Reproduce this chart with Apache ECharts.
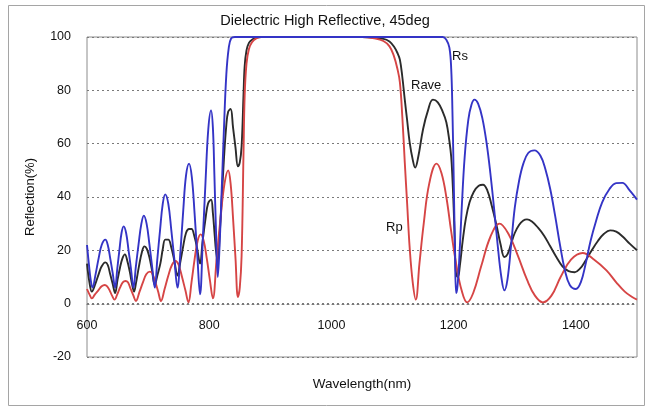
<!DOCTYPE html>
<html>
<head>
<meta charset="utf-8">
<script src="https://cdn.jsdelivr.net/npm/echarts@6/dist/echarts.min.js"></script>
<style>
  html, body { margin: 0; padding: 0; background: #fff; }
  #chart { width: 650px; height: 410px; }
</style>
</head>
<body>
<div id="chart"></div>
<script>
// Reflectance spectra of a dielectric high-reflector at 45 degrees incidence.
// Wavelengths in nm, reflectance in %.

const rsNm = [600, 603, 606, 609, 614, 619, 624, 630, 634, 638, 642, 646, 649.5, 653, 656.5, 660, 664, 668, 672, 676,
  680, 684.5, 689, 693, 697.5, 702, 706.5, 711, 715, 719.5, 724, 728, 733, 738, 743, 748, 753, 757.5, 762, 767,
  771.5, 776, 780.5, 785, 789.5, 794, 798.5, 803, 806, 808.5, 811, 814, 817, 820, 824, 828, 832, 836, 842, 900,
  1000, 1100, 1182, 1188, 1193, 1196, 1198, 1200, 1202, 1204, 1206, 1209, 1213, 1218, 1224, 1229, 1234, 1240, 1247, 1254,
  1260, 1266, 1272, 1278, 1283, 1288, 1294, 1300, 1307, 1314, 1322, 1332, 1342, 1350, 1358, 1366, 1374, 1382, 1390, 1400,
  1408, 1416, 1424, 1433, 1443, 1455, 1466, 1476, 1488, 1500];
const rsVal = [22, 15, 9, 6, 11, 17, 22, 24, 22, 17, 11.5, 6, 13, 20, 26.5, 29, 26.5, 20, 13, 6,
  14, 22.5, 30, 33, 30, 22.5, 14, 6, 16.5, 27.5, 37.5, 41, 37.5, 27.5, 16.5, 6, 20, 35, 48, 52.5,
  47.5, 34, 18, 3.5, 24, 46, 65.5, 72.5, 66, 48, 28, 10, 22, 40, 65, 86, 96, 99.5, 100, 100,
  100, 100, 100, 99, 96, 88, 72, 48, 22, 4, 6, 16, 35, 55, 69, 74.5, 76.5, 75, 69.5, 60,
  49, 36, 22, 10, 5, 9, 22, 36, 46, 52.5, 56.5, 57.5, 55.5, 50.5, 43, 33, 22, 12.5, 7, 5.5,
  8, 15, 23.5, 31, 38, 43, 45.2, 45.3, 42.5, 39];

const rpNm = [600, 604, 608, 613, 618.5, 624, 629, 633, 637, 641, 645, 649.5, 654, 658.5, 663, 667, 671.5, 676, 680, 686,
  691.5, 697, 703, 707.5, 712, 716.5, 721, 727, 733, 739, 745, 750, 755.5, 761, 766, 771, 776, 781, 786, 791,
  796, 801, 806, 812, 818.5, 825, 831, 835, 839, 843, 847, 850, 853, 856, 858, 861, 865, 870, 877, 885,
  1000, 1050, 1070, 1085, 1095, 1102, 1108, 1112, 1116, 1120, 1124, 1128, 1133, 1138, 1144, 1151, 1160, 1172, 1180, 1188,
  1196, 1204, 1213, 1222, 1232, 1245, 1260, 1275, 1290, 1305, 1320, 1333, 1346, 1360, 1375, 1392, 1411, 1430, 1450, 1466,
  1480, 1492, 1500];
const rpVal = [5.5, 3.5, 2, 3.5, 5, 6.5, 7, 6.5, 5, 3, 1.5, 3.5, 6, 8, 8.5, 8, 5.5, 3, 1, 4.5,
  8, 11, 12, 11, 8, 4.5, 1, 5.5, 10.5, 14.5, 16, 14.5, 10, 5, 0.5, 8, 16.5, 23.5, 26, 23.5,
  17, 9, 2, 16.5, 32, 45, 50, 45, 32, 17, 2.5, 6, 18, 55, 78, 90, 95.5, 98, 99.5, 100,
  100, 100, 99.5, 98.5, 96.5, 93, 88, 83, 70, 53, 37, 21, 8, 1.5, 15, 30, 45, 52.5, 49, 40,
  27, 15, 5, 0.5, 4, 14, 25, 30, 26, 18, 9, 3, 0.5, 3, 10, 16.5, 19, 16.5, 12.5, 8,
  4.5, 2.5, 1.5];

const raveNm = [600, 604, 608, 613, 619, 624, 630, 634, 638, 642, 646, 650, 654, 658, 662, 666, 670, 674, 677, 680,
  685, 690, 694, 698, 702, 706, 711, 715, 720, 724, 728, 733, 738, 743, 748, 753, 757, 762, 767, 771,
  776, 780, 785, 789, 794, 798, 803, 806, 809, 811, 814, 817, 820, 824, 828, 831, 835, 839, 843, 847,
  850, 853, 856, 858, 861, 865, 870, 877, 885, 1000, 1050, 1085, 1095, 1102, 1108, 1112, 1116, 1120, 1124, 1128,
  1133, 1137, 1142, 1150, 1158, 1166, 1174, 1182, 1188, 1193, 1196, 1198, 1200, 1202, 1204, 1207, 1210, 1215, 1220, 1226,
  1233, 1241, 1248, 1255, 1262, 1270, 1277, 1283, 1288, 1294, 1300, 1307, 1314, 1320, 1328, 1338, 1348, 1358, 1368, 1378,
  1388, 1398, 1407, 1416, 1426, 1436, 1446, 1456, 1466, 1476, 1488, 1500];
const raveVal = [15, 8, 4.5, 7, 11, 14, 15.5, 14.5, 11, 7.5, 4, 9, 13.5, 17, 18.5, 16, 12, 7, 4.5, 7.5,
  14, 19.5, 21.5, 20.5, 17.5, 13, 7, 10.5, 15, 20.5, 24, 24, 21, 16, 10.5, 16, 21, 26.5, 28, 28,
  25, 21, 15, 23, 32, 37.5, 39, 34, 25.5, 20, 15.5, 25.5, 37.5, 54, 67, 72, 73, 66, 58.5, 51.5,
  53, 59, 77.5, 89, 95, 97.8, 99, 99.8, 100, 100, 100, 99.3, 98.3, 96.5, 94, 91.5, 85, 76.5, 68.5, 60.5,
  54, 51, 55, 65.5, 72.5, 76.5, 75.5, 72, 68, 61, 55, 47, 36, 22, 11, 10, 14, 24, 32, 38,
  42, 44.2, 44.6, 42.5, 37, 29.5, 22, 17.5, 18.5, 22.5, 26.5, 29.5, 31.2, 31.6, 30.8, 28.5, 25.5, 21.5, 17.5, 14,
  12.2, 11.8, 13.2, 16.2, 20, 23.5, 26.2, 27.5, 27, 25.3, 22.5, 20];

const xTicks = { min: 600, max: 1500, step: 200 };
const yTicks = { min: -20, max: 100, step: 20 };

const titleText = 'Dielectric High Reflective, 45deg';
const xName = 'Wavelength(nm)';
const yName = 'Reflection(%)';
const seriesNames = ['Rave', 'Rp', 'Rs'];

const pairs = (xs, ys) => xs.map((x, i) => [x, ys[i]]);
const textFont = '"Liberation Sans", Arial, sans-serif';
const gridDots = { color: '#7a7a7a', width: 1, type: [2, 3] };

const chart = echarts.init(document.getElementById('chart'), null, { renderer: 'canvas' });

const lineSeries = (name, data, color) => ({
  name, type: 'line', data, smooth: 0.4, symbol: 'none',
  lineStyle: { color, width: 1.9 }, z: 3
});

chart.setOption({
  animation: false,
  backgroundColor: '#fff',
  textStyle: { fontFamily: textFont },
  title: {
    text: titleText, left: 'center', top: 8,
    textStyle: { fontSize: 14.5, fontWeight: 'normal', color: '#111', fontFamily: textFont }
  },
  grid: {
    left: 87, right: 13, top: 37, bottom: 53,
    outerBoundsMode: 'none', containLabel: false,
    show: true, borderColor: '#8c8c8c', borderWidth: 1, backgroundColor: 'transparent'
  },
  xAxis: {
    type: 'value', min: xTicks.min, max: xTicks.max, interval: xTicks.step,
    position: 'bottom', offset: -53,
    name: xName, nameLocation: 'middle', nameGap: 73,
    nameTextStyle: { fontSize: 13.5, color: '#111', fontFamily: textFont },
    axisLine: { show: true, onZero: false, lineStyle: gridDots },
    axisTick: { show: false },
    splitLine: { show: false },
    axisLabel: { fontSize: 12.5, color: '#111', margin: 15, showMaxLabel: false,
      formatter: v => String(v) }
  },
  yAxis: {
    type: 'value', min: yTicks.min, max: yTicks.max, interval: yTicks.step,
    name: yName, nameLocation: 'middle', nameGap: 50, nameRotate: 90,
    nameTextStyle: { fontSize: 13, color: '#111', fontFamily: textFont },
    axisLine: { show: false },
    axisTick: { show: false },
    splitLine: { show: true, lineStyle: gridDots },
    axisLabel: { fontSize: 12.5, color: '#111', margin: 16 }
  },
  series: [
    lineSeries(seriesNames[0], pairs(raveNm, raveVal), '#2b2b2b'),
    lineSeries(seriesNames[1], pairs(rpNm, rpVal), '#d64545'),
    lineSeries(seriesNames[2], pairs(rsNm, rsVal), '#3434c6')
  ],
  graphic: [
    { type: 'rect', shape: { x: 8.5, y: 5.5, width: 636, height: 400 },
      style: { fill: 'none', stroke: '#a5a5a5', lineWidth: 1 }, silent: true },
    { type: 'text', left: 452, top: 50, style: { text: 'Rs', fill: '#111', font: '13px ' + textFont } },
    { type: 'text', left: 411, top: 79, style: { text: 'Rave', fill: '#111', font: '13px ' + textFont } },
    { type: 'text', left: 386, top: 221, style: { text: 'Rp', fill: '#111', font: '13px ' + textFont } }
  ]
});
</script>
</body>
</html>
